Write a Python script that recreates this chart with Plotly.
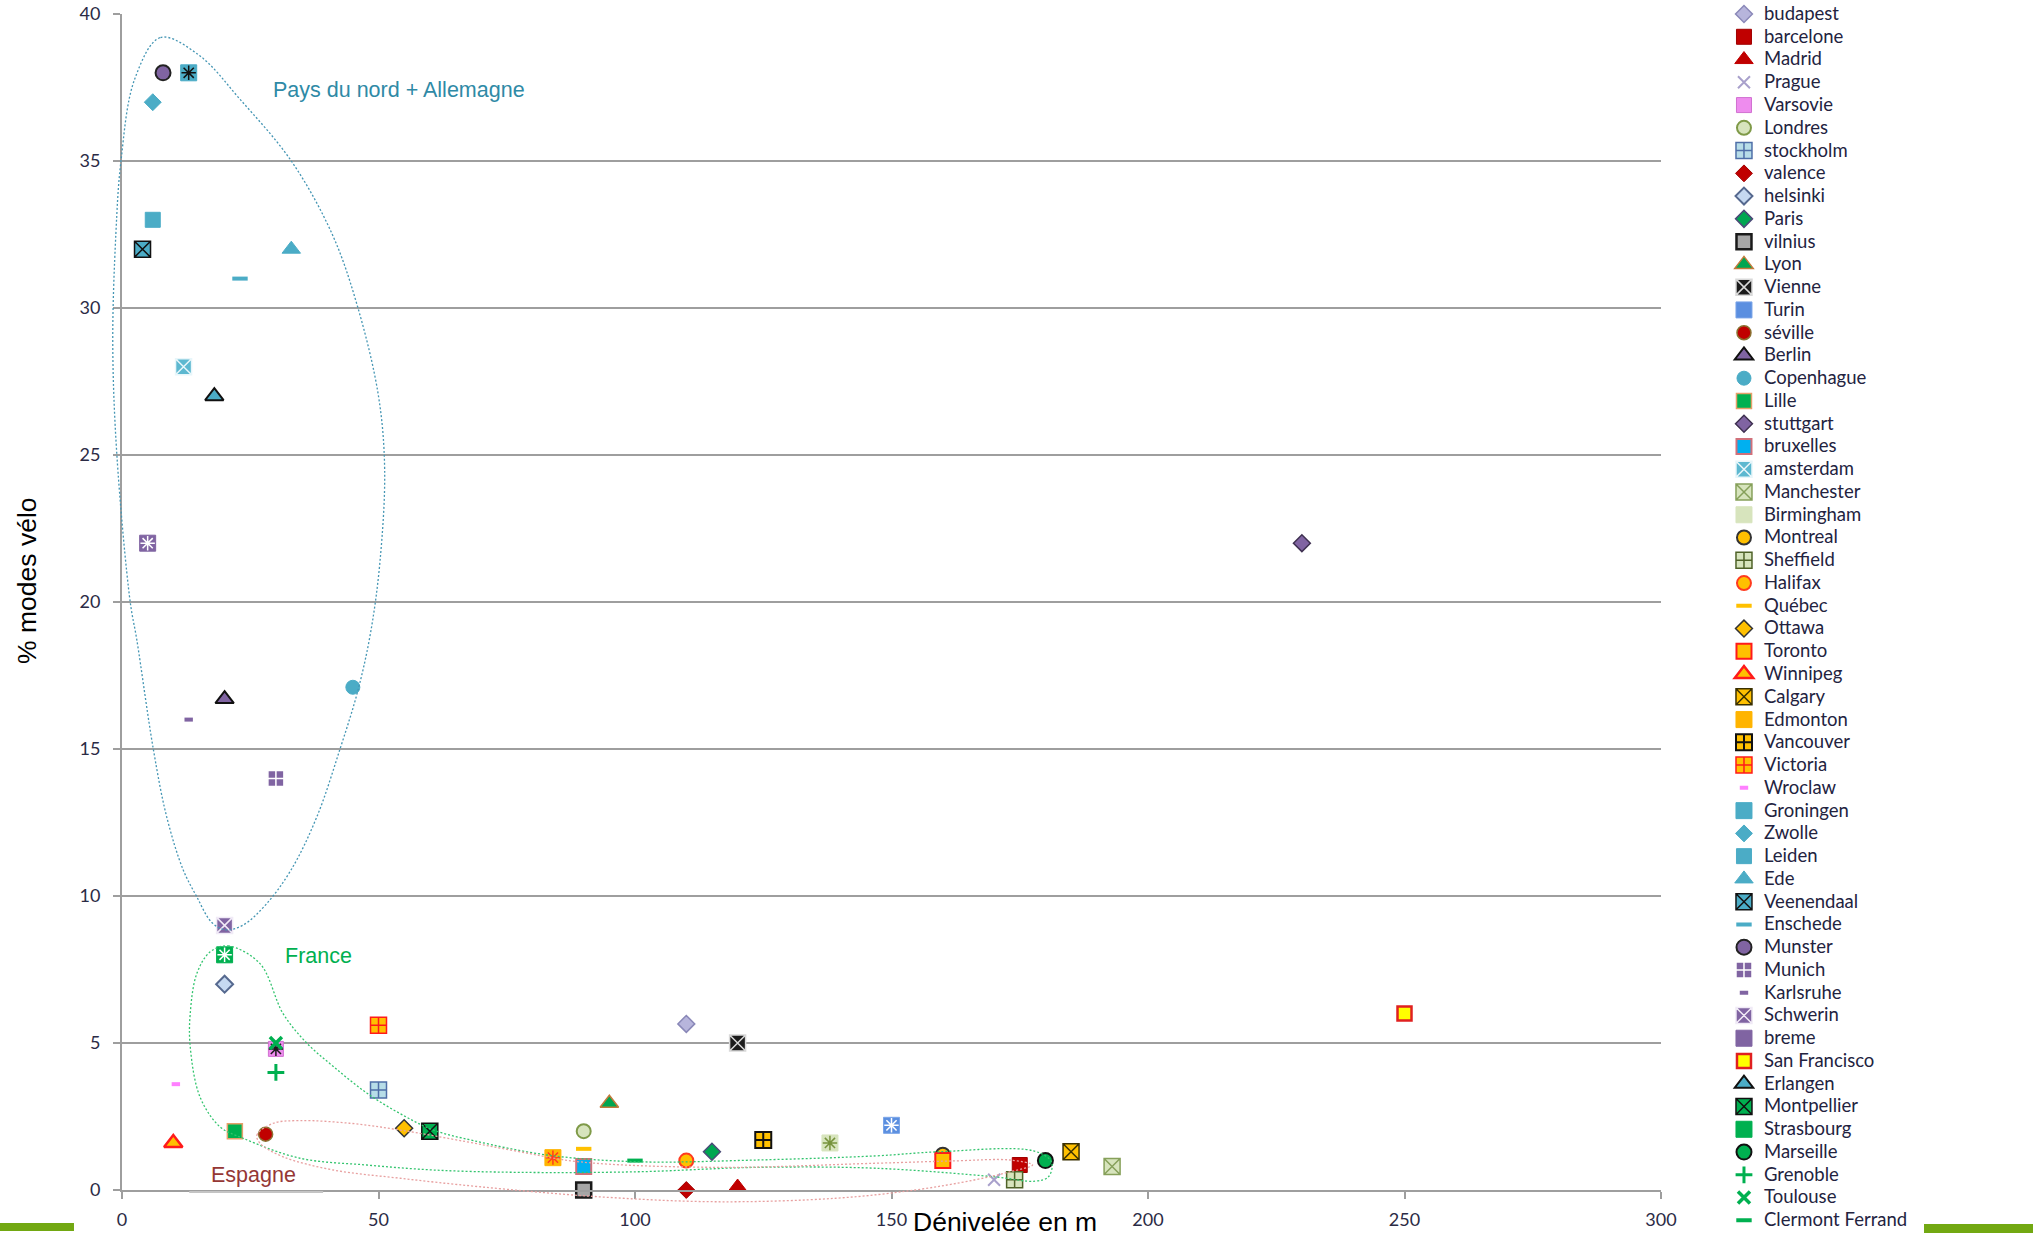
import math
import plotly.graph_objects as go

# ---------------- data ----------------
cities = ["budapest", "barcelone", "Madrid", "Prague", "Varsovie", "Londres", "stockholm",
          "valence", "helsinki", "Paris", "vilnius", "Lyon", "Vienne", "Turin", "séville",
          "Berlin", "Copenhague", "Lille", "stuttgart", "bruxelles", "amsterdam", "Manchester",
          "Birmingham", "Montreal", "Sheffield", "Halifax", "Québec", "Ottawa", "Toronto",
          "Winnipeg", "Calgary", "Edmonton", "Vancouver", "Victoria", "Wroclaw", "Groningen",
          "Zwolle", "Leiden", "Ede", "Veenendaal", "Enschede", "Munster", "Munich", "Karlsruhe",
          "Schwerin", "breme", "San Francisco", "Erlangen", "Montpellier", "Strasbourg",
          "Marseille", "Grenoble", "Toulouse", "Clermont Ferrand"]

denivele = [110, 175, 120, 170, 30, 90, 50,
            110, 20, 115, 90, 95, 120, 150, 28,
            20, 45, 22, 230, 90, 12, 193,
            138, 160, 174, 110, 90, 55, 160,
            10, 185, 84, 125, 50, 10.5, 13,
            6, 6, 33, 4, 23, 8, 30, 13,
            20, 5, 250, 18, 60, 20,
            180, 30, 30, 100]

pct_velo = [5.65, 0.85, 0.1, 0.35, 4.8, 2.0, 3.4,
            0.0, 7.0, 1.3, 0.0, 2.95, 5.0, 2.2, 1.9,
            16.7, 17.1, 2.0, 22.0, 0.8, 28.0, 0.8,
            1.6, 1.2, 0.35, 1.0, 1.4, 2.1, 1.0,
            1.6, 1.3, 1.1, 1.7, 5.6, 3.6, 38.0,
            37.0, 33.0, 32.0, 32.0, 31.0, 38.0, 14.0, 16.0,
            9.0, 22.0, 6.0, 27.0, 2.0, 8.0,
            1.0, 4.0, 5.0, 1.0]

x_ticks = [0, 50, 100, 150, 200, 250, 300]
y_ticks = [0, 5, 10, 15, 20, 25, 30, 35, 40]

# outlines of the hand-drawn groupings (data units)
nord_x = [7.5, 15, 23, 33, 41, 46, 50, 51.2, 50.3, 48.5, 46.0, 42.5, 38, 33, 28, 23.5, 20.1,
          17.5, 14.5, 11.9, 8.7, 6.1, 2.9, 1.6, -1.0, -1.8, -1.2, -0.2, 2.5]
nord_y = [39.2, 38.6, 37.1, 35.0, 32.5, 30.0, 27.0, 24.5, 21.4, 19.0, 17.0, 15.0, 12.7, 10.9, 9.7,
          9.0, 8.85, 9.1, 10.0, 10.9, 12.7, 15.0, 18.7, 20.0, 25.0, 28.8, 32.5, 35.0, 37.8]

france_x = [20.7, 26.9, 31.4, 36, 41.2, 47.7, 54.2, 60.7, 68.5, 82.9, 100.6, 123.7, 146.9, 159.2,
            177.7, 181.2, 180.6, 178, 170, 146.9, 123.7, 100.6, 77.6, 60.7, 47.7, 34.7, 23.6,
            19.1, 15.2, 13.3, 13.3, 14.6, 17.2]
france_y = [8.3, 7.7, 6.0, 5.0, 4.2, 3.3, 2.6, 2.04, 1.68, 1.19, 0.96, 1.02, 1.16, 1.3,
            1.33, 0.95, 0.45, 0.3, 0.45, 0.74, 0.77, 0.62, 0.6, 0.68, 0.85, 1.08, 1.76,
            2.15, 3.17, 4.87, 6.0, 7.37, 8.1]

espagne_x = [26.3, 29.5, 34.7, 44.4, 54.2, 67.2, 77.6, 89.1, 116, 146.9, 162.3, 173.1, 177.5,
             173.1, 166.1, 154.6, 139.2, 116, 92.9, 69.8, 54.2, 41.2, 31.4, 26.9]
espagne_y = [1.87, 2.27, 2.36, 2.27, 2.04, 1.64, 1.3, 0.96, 0.77, 0.91, 0.99, 1.02, 0.85,
             0.62, 0.34, 0.0, -0.28, -0.4, -0.23, 0.11, 0.4, 0.68, 1.13, 1.59]

X_RANGE = (0, 300)
Y_RANGE = (0, 40)

# ---------------- styles (symbol, size, fill, line colour, line width, overlay asterisk colour) ----------------
styles = {
    "budapest": ("diamond", 13, "#b7b5dc", "#8a88b8", 1.5, None),
    "barcelone": ("square", 15, "#c00000", "#a00000", 1, None),
    "Madrid": ("triangle-up", 16, "#c00000", "#c00000", 1, None),
    "Prague": ("x-thin-open", 12, "#a9a1cc", None, 2, None),
    "Varsovie": ("square", 15, "#ee8cee", "#d070d0", 1, "#1a1a1a"),
    "Londres": ("circle", 14, "#d7e4bd", "#7f9a48", 2, None),
    "stockholm": ("square-cross", 16, "#b7dde8", "#4f6fa8", 1.5, None),
    "valence": ("diamond", 13, "#c00000", "#a00000", 1, None),
    "helsinki": ("diamond", 13, "#c6d9f1", "#56698f", 2, None),
    "Paris": ("diamond", 13, "#00a651", "#4b4b78", 1.5, None),
    "vilnius": ("square", 15, "#a6a6a6", "#1a1a1a", 2.5, None),
    "Lyon": ("triangle-up", 16, "#00a651", "#c27a3a", 1.5, None),
    "Vienne": ("square-x", 16, "#1c1c1c", "#d9d9d9", 1.5, None),
    "Turin": ("square", 16, "#5b8fe0", "#7aa5e8", 1, "#ffffff"),
    "séville": ("circle", 14, "#c00000", "#8a7030", 1.5, None),
    "Berlin": ("triangle-up", 16, "#8064a2", "#111111", 2, None),
    "Copenhague": ("circle", 14, "#4bacc6", "#4bacc6", 1, None),
    "Lille": ("square", 15, "#00b050", "#e6a06a", 1.5, None),
    "stuttgart": ("diamond", 13, "#8064a2", "#3f3151", 1.5, None),
    "bruxelles": ("square", 15, "#00b0f0", "#d0707a", 2, None),
    "amsterdam": ("square-x", 16, "#5db8d0", "#e8f6fa", 1.5, None),
    "Manchester": ("square-x", 16, "#d7e4bd", "#86a05a", 1.5, None),
    "Birmingham": ("square", 16, "#d7e4bd", "#d7e4bd", 1, "#77933c"),
    "Montreal": ("circle", 14, "#ffc000", "#333333", 2, None),
    "Sheffield": ("square-cross", 16, "#d7e4bd", "#4f6228", 1.5, None),
    "Halifax": ("circle", 14, "#ffc000", "#ff3b1f", 2, None),
    "Québec": ("line-ew-open", 11, "#ffc000", None, 4, None),
    "Ottawa": ("diamond", 13, "#ffc000", "#333333", 1.5, None),
    "Toronto": ("square", 15, "#ffc000", "#ff1a1a", 2, None),
    "Winnipeg": ("triangle-up", 16, "#ffc000", "#ff1a1a", 2.5, None),
    "Calgary": ("square-x", 16, "#ffc000", "#3a3000", 1.5, None),
    "Edmonton": ("square", 16, "#ffb400", "#ffb400", 1, "#ff3b1f"),
    "Vancouver": ("square-cross", 16, "#ffc000", "#111111", 2, None),
    "Victoria": ("square-cross", 16, "#ffc000", "#ff1a1a", 1.5, None),
    "Wroclaw": ("line-ew-open", 6, "#ff80ff", None, 4, None),
    "Groningen": ("square", 16, "#4bacc6", "#4bacc6", 1, "#111111"),
    "Zwolle": ("diamond", 13, "#4bacc6", "#4bacc6", 1, None),
    "Leiden": ("square", 15, "#4bacc6", "#4bacc6", 1, None),
    "Ede": ("triangle-up", 16, "#4bacc6", "#4bacc6", 1, None),
    "Veenendaal": ("square-x", 16, "#4bacc6", "#111111", 1.5, None),
    "Enschede": ("line-ew-open", 11, "#4bacc6", None, 4, None),
    "Munster": ("circle", 15, "#8064a2", "#222222", 2, None),
    "Munich": ("square-cross", 16, "#8064a2", "#ffffff", 1.5, None),
    "Karlsruhe": ("line-ew-open", 6, "#8064a2", None, 4, None),
    "Schwerin": ("square-x", 16, "#8064a2", "#f0eaf6", 1.5, None),
    "breme": ("square", 16, "#8064a2", "#8064a2", 1, "#ffffff"),
    "San Francisco": ("square", 14, "#ffff00", "#e02020", 2.5, None),
    "Erlangen": ("triangle-up", 16, "#4bacc6", "#111111", 2, None),
    "Montpellier": ("square-x", 16, "#00b050", "#111111", 1.5, None),
    "Strasbourg": ("square", 16, "#00b050", "#00b050", 1, "#ffffff"),
    "Marseille": ("circle", 15, "#00b050", "#111111", 2, None),
    "Grenoble": ("cross-thin-open", 12, "#00b050", None, 3, None),
    "Toulouse": ("x-thin-open", 12, "#00b050", None, 3.5, None),
    "Clermont Ferrand": ("line-ew-open", 11, "#00b050", None, 4, None),
}

LEGEND_FONT = 15.2      # sets the row pitch of the legend
LEGEND_TEXT_PX = 18.5   # visible size of the legend labels

fig = go.Figure()
for name, xv, yv in zip(cities, denivele, pct_velo):
    sym, size, fill, lc, lw, over = styles[name]
    marker = dict(symbol=sym, size=size, color=fill, line=dict(width=lw, color=lc if lc else fill))
    fig.add_trace(go.Scatter(
        x=[xv], y=[yv], mode="markers", marker=marker, cliponaxis=False,
        name=f'<span style="font-size:{LEGEND_TEXT_PX}px">{name}</span>',
        legendgroup=name, hoverinfo="skip"))
    if over:
        fig.add_trace(go.Scatter(
            x=[xv], y=[yv], mode="markers", cliponaxis=False, showlegend=False,
            legendgroup=name, hoverinfo="skip",
            marker=dict(symbol="asterisk-open", size=12, color=over, line=dict(width=1.5))))


# ---------------- hand-drawn outlines as smooth closed paths ----------------
SX = 5.13   # approx px per x unit (only for spline parameterisation)
SY = 29.4   # approx px per y unit


def to_paper(x, y):
    return ((x - X_RANGE[0]) / (X_RANGE[1] - X_RANGE[0]),
            (y - Y_RANGE[0]) / (Y_RANGE[1] - Y_RANGE[0]))


def closed_spline_path(xs, ys, alpha=0.5):
    pts = [(x * SX, y * SY) for x, y in zip(xs, ys)]
    n = len(pts)

    def back(p):
        px, py = to_paper(p[0] / SX, p[1] / SY)
        return f"{px:.6f},{py:.6f}"

    def dist(a, b):
        return max(math.hypot(a[0] - b[0], a[1] - b[1]), 1e-6)

    d = "M" + back(pts[0])
    for i in range(n):
        p0, p1, p2, p3 = pts[i - 1], pts[i], pts[(i + 1) % n], pts[(i + 2) % n]
        d1 = dist(p0, p1) ** alpha
        d2 = dist(p1, p2) ** alpha
        d3 = dist(p2, p3) ** alpha
        A = 2 * d1 * d1 + 3 * d1 * d2 + d2 * d2
        N = 3 * d1 * (d1 + d2)
        B = 2 * d3 * d3 + 3 * d3 * d2 + d2 * d2
        M = 3 * d3 * (d3 + d2)
        c1 = ((d1 * d1 * p2[0] - d2 * d2 * p0[0] + A * p1[0]) / N,
              (d1 * d1 * p2[1] - d2 * d2 * p0[1] + A * p1[1]) / N)
        c2 = ((d3 * d3 * p1[0] - d2 * d2 * p3[0] + B * p2[0]) / M,
              (d3 * d3 * p1[1] - d2 * d2 * p3[1] + B * p2[1]) / M)
        d += " C" + back(c1) + " " + back(c2) + " " + back(p2)
    return d + " Z"


shapes = []
for xs, ys, col in [(nord_x, nord_y, "#4596b4"),
                    (france_x, france_y, "#33c46e"),
                    (espagne_x, espagne_y, "#e8a0a0")]:
    shapes.append(dict(type="path", xref="paper", yref="paper", path=closed_spline_path(xs, ys),
                       line=dict(color=col, width=1.3, dash="2px,2px"), layer="above"))

# decorative green bars at the bottom corners and text-box underline
shapes.append(dict(type="rect", xref="paper", yref="paper", x0=-0.0793, x1=-0.0312,
                   y0=-0.0349, y1=-0.0281, line=dict(width=0), fillcolor="#72a812"))
shapes.append(dict(type="rect", xref="paper", yref="paper", x0=1.1709, x1=1.25,
                   y0=-0.0366, y1=-0.0290, line=dict(width=0), fillcolor="#72a812"))
shapes.append(dict(type="line", xref="paper", yref="paper", x0=13.1 / 300, x1=39.2 / 300,
                   y0=-0.0018, y1=-0.0018, line=dict(color="#c4c4c4", width=2)))

ANN_FONT = "Liberation Sans, Arial"
annotations = [
    dict(text="Pays du nord + Allemagne", x=29.0, y=37.4, xref="x", yref="y", xanchor="left",
         yanchor="middle", showarrow=False,
         font=dict(family=ANN_FONT, size=21.5, color="#2f8aa6")),
    dict(text="France", x=31.4, y=7.95, xref="x", yref="y", xanchor="left", yanchor="middle",
         showarrow=False, font=dict(family=ANN_FONT, size=21.5, color="#00b050")),
    dict(text="Espagne", x=17.0, y=0.5, xref="x", yref="y", xanchor="left", yanchor="middle",
         showarrow=False, font=dict(family=ANN_FONT, size=21.5, color="#953735")),
    dict(text="Dénivelée en m", x=0.5738, y=-0.0272, xref="paper", yref="paper",
         xanchor="center", yanchor="middle", showarrow=False,
         font=dict(family=ANN_FONT, size=26.5, color="#000000")),
    dict(text="% modes vélo", x=-0.0617, y=0.518, xref="paper", yref="paper", textangle=-90,
         xanchor="center", yanchor="middle", showarrow=False,
         font=dict(family=ANN_FONT, size=26.5, color="#000000")),
]

AX_COL = "#9e9e9e"
TICK_FONT = dict(family="Lato, Calibri, sans-serif", size=18, color="#2b2b45")
fig.update_layout(
    width=2033, height=1240,
    margin=dict(l=122, r=372, t=14, b=50, autoexpand=False),
    plot_bgcolor="white", paper_bgcolor="white",
    showlegend=True,
    legend=dict(xref="container", yref="paper", x=0.848, y=1.0139, xanchor="left",
                yanchor="top", maxheight=1400, tracegroupgap=0, bgcolor="rgba(0,0,0,0)",
                font=dict(family="Lato, Calibri, sans-serif", size=LEGEND_FONT, color="#23233f"),
                itemclick=False, itemdoubleclick=False),
    xaxis=dict(range=list(X_RANGE), tickvals=x_ticks, showgrid=False, zeroline=False,
               showline=True, linecolor=AX_COL, linewidth=2, ticks="outside", ticklen=7,
               tickwidth=2, tickcolor=AX_COL, ticklabelstandoff=5, tickfont=TICK_FONT),
    yaxis=dict(range=list(Y_RANGE), tickvals=y_ticks, showgrid=True, gridcolor=AX_COL,
               gridwidth=2, zeroline=False, showline=True, linecolor=AX_COL, linewidth=2,
               ticks="outside", ticklen=7, tickwidth=2, tickcolor=AX_COL, ticklabelstandoff=9,
               tickfont=TICK_FONT),
    shapes=shapes,
    annotations=annotations,
)

fig.write_html("out.html", config={"displayModeBar": False},
               post_script="document.body.style.margin='0';")
